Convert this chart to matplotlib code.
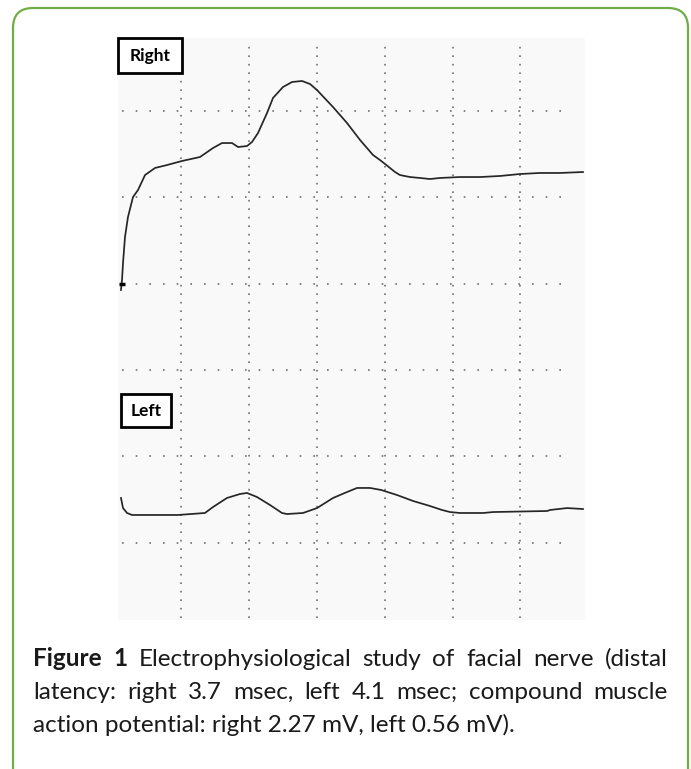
import matplotlib
matplotlib.use("Agg")
import matplotlib.pyplot as plt
from matplotlib.patches import FancyBboxPatch, Rectangle

# ---- data (screen divisions: x = time div, y = vertical div) ----
right_x = [0.116, 0.131, 0.146, 0.175, 0.219, 0.293, 0.367, 0.470, 0.617, 0.794,
           1.015, 1.280, 1.471, 1.604, 1.751, 1.840, 1.972, 2.046, 2.134, 2.267,
           2.355, 2.502, 2.635, 2.782, 2.900, 3.003, 3.239, 3.445, 3.637, 3.828,
           3.931, 4.005, 4.078, 4.152, 4.225, 4.372, 4.520, 4.667, 4.814, 5.109,
           5.403, 5.698, 5.993, 6.287, 6.582, 6.920]
right_y = [3.926, 4.042, 4.239, 4.540, 4.772, 5.003, 5.085, 5.258, 5.340, 5.374,
           5.421, 5.467, 5.571, 5.629, 5.629, 5.583, 5.594, 5.641, 5.745, 5.977,
           6.151, 6.278, 6.336, 6.348, 6.313, 6.243, 6.046, 5.861, 5.664, 5.490,
           5.432, 5.386, 5.340, 5.293, 5.258, 5.235, 5.224, 5.212, 5.224, 5.235,
           5.235, 5.247, 5.270, 5.282, 5.282, 5.293]

left_x = [0.116, 0.146, 0.205, 0.278, 0.956, 1.353, 1.471, 1.677, 1.869, 1.972,
          2.119, 2.310, 2.487, 2.561, 2.797, 3.003, 3.239, 3.445, 3.593, 3.784,
          3.946, 4.182, 4.418, 4.667, 4.843, 4.962, 5.109, 5.449, 5.596, 6.392,
          6.436, 6.686, 6.920]
left_y = [1.516, 1.399, 1.342, 1.319, 1.319, 1.342, 1.411, 1.516, 1.562, 1.574,
          1.527, 1.435, 1.342, 1.330, 1.342, 1.399, 1.516, 1.585, 1.632, 1.632,
          1.609, 1.550, 1.481, 1.423, 1.377, 1.353, 1.342, 1.342, 1.353, 1.365,
          1.377, 1.399, 1.388]

grid_x = [1, 2, 3, 4, 5, 6]
grid_y = [1, 2, 3, 4, 5, 6]
labels = ["Right", "Left"]

caption_lines = [
    [("Figure", "bold"), ("1", "bold"), ("Electrophysiological", "normal"), ("study", "normal"),
     ("of", "normal"), ("facial", "normal"), ("nerve", "normal"), ("(distal", "normal")],
    [("latency:", "normal"), ("right", "normal"), ("3.7", "normal"), ("msec,", "normal"),
     ("left", "normal"), ("4.1", "normal"), ("msec;", "normal"), ("compound", "normal"),
     ("muscle", "normal")],
    [("action potential: right 2.27 mV, left 0.56 mV).", "normal")],
]

W, H = 691, 769
fig = plt.figure(figsize=(W / 100, H / 100), dpi=100)
fig.patch.set_facecolor("white")

# overlay axes in pixel units
ov = fig.add_axes([0, 0, 1, 1])
ov.set_xlim(0, W)
ov.set_ylim(H, 0)
ov.axis("off")

border = FancyBboxPatch((13, 8), 675, 790, boxstyle="round,pad=0,rounding_size=20",
                        fc="none", ec="#70ad47", lw=1.6, clip_on=True)
ov.add_patch(border)

# main oscilloscope axes
L, R, T, B = 118, 585, 38, 620
ax = fig.add_axes([L / W, 1 - B / H, (R - L) / W, (B - T) / H])
ax.set_xlim(0.072, 6.95)
ax.set_ylim(0.102, 6.846)
ax.set_facecolor("#f9f9f9")
for s in ax.spines.values():
    s.set_visible(False)
ax.set_xticks([])
ax.set_yticks([])

dot_col = "#707070"
for gx in grid_x:
    ax.plot([gx, gx], [0.125, 6.82], color=dot_col, lw=1.2,
            linestyle=(0, (1, 4.1)), dash_capstyle="butt")
for gy in grid_y:
    ax.plot([0.13, 6.77], [gy, gy], color=dot_col, lw=1.2,
            linestyle=(0, (1, 7.2)), dash_capstyle="butt")

ax.plot(right_x, right_y, color="#262626", lw=1.25)
ax.plot(left_x, left_y, color="#262626", lw=1.25)
ax.plot([right_x[1]], [4.0], marker="_", ms=5, mew=2.5, color="black")

# label boxes
boxes = [(0.072, 6.440, 1.015, 6.846), (0.116, 2.338, 0.853, 2.721)]
for lab, (x0, y0, x1, y1) in zip(labels, boxes):
    ax.add_patch(Rectangle((x0, y0), x1 - x0, y1 - y0, fc="white", ec="black",
                           lw=2.0, clip_on=False, zorder=5))
    ax.text((x0 + x1) / 2, (y0 + y1) / 2, lab, ha="center", va="center",
            fontsize=12.5, fontweight="bold", family="Lato", zorder=6)

# caption with justification
fig.canvas.draw()
renderer = fig.canvas.get_renderer()
fs = 17.5
x_left, x_right = 33, 668
baselines = [666, 699, 732]
for li, (words, yb) in enumerate(zip(caption_lines, baselines)):
    texts = []
    for w, wt in words:
        t = ov.text(0, yb, w, fontsize=fs, fontweight=wt, family="Lato",
                    va="baseline", ha="left", color="#1a1a1a")
        texts.append(t)
    fig.canvas.draw()
    widths = [t.get_window_extent(renderer).width for t in texts]
    if li < len(caption_lines) - 1 and len(texts) > 1:
        gap = (x_right - x_left - sum(widths)) / (len(texts) - 1)
    else:
        gap = 0
    x = x_left
    for t, wd in zip(texts, widths):
        t.set_x(x)
        x += wd + gap

fig.savefig("out.png", dpi=100, facecolor="white")
